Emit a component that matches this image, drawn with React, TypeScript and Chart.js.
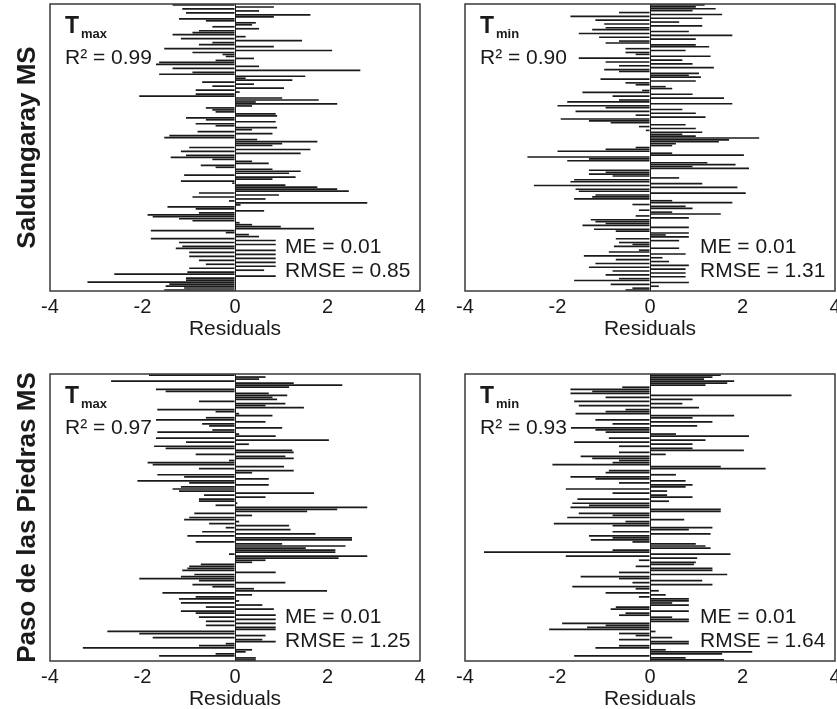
import React, { useEffect, useRef } from "react";
import { Chart, registerables } from "chart.js";

Chart.register(...registerables);

const FONT = "'Liberation Sans', Arial, Helvetica, sans-serif";
const INK = "#1a1a1a";

// x-axis range / tick labels
const X_MIN = -4;
const X_MAX = 4;
const X_STEP = 2;
const X_TITLE = "Residuals";

// station labels
const STATION_TOP = "Saldungaray MS";
const STATION_BOTTOM = "Paso de las Piedras MS";

// panel statistics
const STATS_TL = { sub: "max", r2: "R² = 0.99", me: "ME = 0.01", rmse: "RMSE = 0.85" };
const STATS_TR = { sub: "min", r2: "R² = 0.90", me: "ME = 0.01", rmse: "RMSE = 1.31" };
const STATS_BL = { sub: "max", r2: "R² = 0.97", me: "ME = 0.01", rmse: "RMSE = 1.25" };
const STATS_BR = { sub: "min", r2: "R² = 0.93", me: "ME = 0.01", rmse: "RMSE = 1.64" };

// residuals, top row to bottom row
const saldungarayTmax = [
  -1.35, 0.84, -1.14, 0.52, -1.06, 1.63, 0.84, -1.21, -0.63, 0.45,
  0.37, -0.49, 0.52, -0.78, -0.92, -1.35, 0.23, -1.17, 1.45, -0.49,
  -0.78, 0.84, -1.53, 2.10, -0.92, -0.27, -0.20, 0.41, -0.42, -1.64,
  -1.71, 0.52, -1.35, 2.71, -0.92, -1.64, 1.52, 0.23, 1.24, -0.71,
  0.41, -0.49, 1.06, -0.85, 0.10, -0.85, -2.07, 1.02, 1.81, 0.45,
  2.21, 0.37, -0.63, -0.49, -0.42, 0.88, 0.91, -1.06, -0.63, 0.88,
  -0.85, -0.42, 0.91, 0.37, -0.81, 0.81, -1.42, -1.53, 0.48, 1.78,
  1.02, 0.81, -0.99, 1.63, -1.17, 1.42, -1.06, -1.39, -0.49, 0.37,
  0.73, -0.74, -0.42, 0.81, 1.42, 1.17, -1.10, 1.31, 0.81, -1.17,
  -0.06, 1.09, 1.78, 2.21, 2.46, -0.78, 0.95, -0.92, 0.66, -0.13,
  2.86, 0.12, -1.46, -0.85, 0.63, -0.78, -1.89, -1.78, -1.21, -0.92,
  0.10, 0.37, 0.99, 1.71, -1.82, -0.20, 0.30, 0.52, -1.82, 0.88,
  -1.21, 0.88, -1.14, -1.28, 0.88, -0.99, 0.88, -0.99, 0.88, -0.78,
  0.88, -0.63, 0.88, -0.99, 0.63, -1.03, -2.61, 0.88, -1.06, -1.06,
  -3.19, -1.42, -1.50, -1.10, -1.53,
];

const saldungarayTmin = [
  1.18, 0.99, 1.42, 0.92, -0.67, 1.56, -1.72, 1.13, -1.18, 0.63,
  -0.99, 1.13, -0.96, -1.25, 0.84, -1.54, 1.78, -1.10, 0.99, -0.67,
  -0.96, 0.99, 1.28, -0.53, 0.77, -0.53, -0.31, 1.31, -1.54, 0.70,
  -0.96, 0.92, -0.67, 1.38, -0.99, -0.67, 1.06, 0.84, 1.10, -1.07,
  0.99, -0.53, -0.31, 0.34, 0.48, -0.17, -1.46, 0.92, -0.81, 1.60,
  -0.67, -1.79, 1.78, -2.00, -0.96, 0.70, -1.61, 0.99, -0.31, 1.20,
  -1.93, -1.32, -0.85, 0.77, -0.24, 0.99, -0.09, 1.13, 0.70, 0.99,
  2.36, 1.71, 1.49, 0.56, 0.48, -0.31, -0.96, -2.00, 0.48, 2.03,
  -2.65, -1.32, -1.79, 1.24, 1.85, 0.92, 2.14, -1.32, -0.96, -1.32,
  -0.81, 0.63, -1.64, -1.72, 1.13, -2.51, 1.89, -1.61, -1.54, 2.07,
  -1.18, -1.25, -1.64, 0.48, 1.78, -0.38, 0.77, 0.92, -0.24, 0.48,
  1.53, -0.31, 0.84, -1.28, -1.18, -0.96, -1.46, 0.84, -1.21, -0.74,
  0.84, 0.34, 0.84, -0.74, 0.63, -0.67, -0.38, -0.78, 0.63, -0.24,
  -0.89, 0.77, -1.43, 0.27, -0.74, 0.41, -1.18, 0.84, -1.32, 0.77,
  -0.81, 0.77, -0.96, 0.77, -0.67, -1.64, 0.84, -0.85, 0.19, -0.38,
  -0.53,
];

const pasoTmax = [
  -1.86, 0.66, 0.52, -2.68, 1.27, 2.32, 1.17, -1.71, -1.50, 0.73,
  1.13, 0.81, 0.91, -0.78, 1.09, 0.66, 1.49, -1.68, -0.42, 0.09,
  0.81, -0.63, -1.71, 0.66, -0.71, -0.56, 1.02, -0.49, -1.68, 0.09,
  0.88, -1.71, 2.03, -1.06, 0.30, -1.75, -1.50, 1.24, 1.27, -0.85,
  1.09, 1.27, -0.13, -1.89, -1.78, 1.06, -0.78, 1.27, 0.37, -1.68,
  -1.10, 0.73, -2.11, -0.99, 0.73, -1.17, -1.35, -1.21, 1.71, -0.67,
  0.66, -0.78, -0.78, 0.05, -0.42, 2.86, 2.21, 1.56, -0.88, 0.37,
  -0.99, -1.10, 0.09, -0.56, 1.17, -0.20, 1.20, -0.71, 1.74, -1.03,
  2.53, 2.53, -0.85, 1.02, 2.39, 1.53, 2.17, 2.17, -0.13, 2.86,
  2.24, 0.66, 0.37, -0.74, -0.99, -1.03, -1.14, 0.88, -0.88, -1.17,
  -2.07, -0.78, 1.09, -0.92, -0.49, 0.41, 1.99, -1.57, 0.37, -0.85,
  -1.21, 0.09, -1.17, 0.59, -0.63, 0.84, -1.17, -0.85, 0.88, -0.78,
  0.88, -0.63, 0.88, -0.63, 0.88, 0.88, -2.76, -2.07, 0.66, -1.78,
  0.59, 0.88, -0.20, -0.78, -3.29, 0.37, 0.23, -0.42, -1.64, 0.45,
  0.45,
];

const pasoTmin = [
  1.53, 1.35, 1.17, 1.82, 1.67, 1.20, -0.60, -1.72, -1.25, -1.72,
  3.06, -0.96, 0.92, -1.64, 0.70, -1.54, 1.06, -0.53, -0.96, -1.61,
  1.82, 0.92, -1.18, 1.35, -0.81, 1.02, -1.72, -1.18, -0.96, 0.56,
  2.14, -0.89, 1.20, -1.64, 0.92, -0.67, 0.92, 2.03, -0.67, 0.34,
  -1.50, -1.25, -0.67, -0.81, -2.11, 1.53, 2.50, -0.89, -0.96, 0.56,
  -1.72, -1.18, 0.77, -0.67, 0.92, 0.77, -1.82, 0.37, -0.81, 0.37,
  0.92, -1.57, 0.41, -1.68, -1.32, -1.72, 1.53, 1.53, -1.54, -0.81,
  -1.79, 0.74, -0.53, -2.08, -0.81, 1.35, 0.84, -0.81, 1.31, -1.32,
  -0.81, -1.28, -0.38, 0.99, 1.20, 1.31, -0.81, -3.59, 1.74, -1.82,
  1.02, -0.24, 0.99, 0.95, -0.31, 1.35, 1.35, -0.67, 1.67, -1.50,
  -0.67, 1.13, -0.38, 1.35, -1.68, -0.31, 0.19, -0.96, 0.34, -0.24,
  0.84, 0.84, 0.48, 0.84, -0.74, -0.85, 0.84, -0.53, -0.67, 0.48,
  0.84, 0.84, -1.90, -0.96, -1.36, -2.18, 0.12, -0.67, -0.31, 0.48,
  -0.67, 0.84, 0.84, -0.67, -1.18, 0.34, 2.21, 1.56, -1.64, 0.77,
  1.60,
];

const panelTextPlugin = {
  id: "panelText",
  afterDatasetsDraw(chart: any, _args: any, opts: any) {
    if (!opts || !opts.r2) return;
    const ctx = chart.ctx as CanvasRenderingContext2D;
    const ca = chart.chartArea;
    const left = ca.left + 15;
    ctx.save();
    // T + subscript
    ctx.font = `bold 23px ${FONT}`;
    const wT = ctx.measureText("T").width;
    ctx.font = `bold 13px ${FONT}`;
    const wSub = ctx.measureText(opts.sub).width;
    ctx.fillStyle = "#ffffff";
    ctx.fillRect(left - 3, ca.top + 10, wT + wSub + 8, 30);
    // R2
    ctx.font = `21px ${FONT}`;
    const wR2 = ctx.measureText(opts.r2).width;
    ctx.fillRect(left - 3, ca.top + 42, wR2 + 7, 24);
    // ME / RMSE box
    ctx.fillRect(ca.left + 227, ca.top + 229, ca.right - (ca.left + 227) - 1, 48);

    ctx.fillStyle = INK;
    ctx.textBaseline = "alphabetic";
    ctx.textAlign = "left";
    ctx.font = `bold 23px ${FONT}`;
    ctx.fillText("T", left, ca.top + 29);
    ctx.font = `bold 13px ${FONT}`;
    ctx.fillText(opts.sub, left + wT + 2, ca.top + 34);
    ctx.font = `21px ${FONT}`;
    ctx.fillText(opts.r2, left, ca.top + 60);
    ctx.fillText(opts.me, ca.left + 235, ca.top + 249);
    ctx.fillText(opts.rmse, ca.left + 235, ca.top + 273);
    ctx.restore();
  },
  afterDraw(chart: any) {
    const ctx = chart.ctx as CanvasRenderingContext2D;
    const ca = chart.chartArea;
    ctx.save();
    ctx.strokeStyle = "#3a3a3a";
    ctx.lineWidth = 1.5;
    ctx.strokeRect(ca.left, ca.top, ca.right - ca.left, ca.bottom - ca.top);
    ctx.restore();
  },
};

type PanelProps = {
  values: number[];
  stats: { sub: string; r2: string; me: string; rmse: string };
  yTitle: string;
  yWidth: number;
  rightPad: number;
  left: number;
  top: number;
};

const CANVAS_W = 430;
const CANVAS_H = 342;

function Panel({ values, stats, yTitle, yWidth, rightPad, left, top }: PanelProps) {
  const ref = useRef<HTMLCanvasElement | null>(null);
  useEffect(() => {
    if (!ref.current) return;
    const labels = values.map((_, i) => String(i + 1));
    const chart = new Chart(ref.current, {
      type: "bar",
      data: {
        labels,
        datasets: [
          {
            data: values,
            backgroundColor: INK,
            borderWidth: 0,
            barPercentage: 0.85,
            categoryPercentage: 1,
          },
        ],
      },
      plugins: [panelTextPlugin],
      options: {
        indexAxis: "y",
        responsive: false,
        animation: false,
        events: [],
        layout: { padding: { top: 4, right: rightPad, left: 0, bottom: 0 } },
        plugins: {
          legend: { display: false },
          tooltip: { enabled: false },
          panelText: stats,
        } as any,
        scales: {
          x: {
            type: "linear",
            min: X_MIN,
            max: X_MAX,
            ticks: {
              stepSize: X_STEP,
              padding: 4,
              color: INK,
              font: { family: FONT, size: 20 },
              callback: (v: any) => String(v),
            },
            grid: {
              drawTicks: false,
              lineWidth: 1,
              color: (c: any) => (c.tick && c.tick.value === 0 ? INK : "rgba(0,0,0,0)"),
            },
            border: { display: false },
            title: {
              display: true,
              text: X_TITLE,
              color: INK,
              font: { family: FONT, size: 21 },
              padding: { top: 0, bottom: 0 },
            },
            afterFit: (s: any) => {
              s.height = 51;
            },
          },
          y: {
            type: "category",
            ticks: { display: false },
            grid: { display: false, drawTicks: false },
            border: { display: false },
            title: {
              display: !!yTitle,
              text: yTitle,
              color: INK,
              font: { family: FONT, size: 26, weight: "bold" },
              padding: { top: 12, bottom: 0 },
            },
            afterFit: (s: any) => {
              s.width = yWidth;
            },
          },
        },
      } as any,
    });
    return () => chart.destroy();
  }, [values, stats, yTitle, yWidth, rightPad]);
  return (
    <div style={{ position: "absolute", left, top, width: CANVAS_W, height: CANVAS_H }}>
      <canvas ref={ref} width={CANVAS_W} height={CANVAS_H} style={{ display: "block" }} />
    </div>
  );
}

export default function App() {
  return (
    <div
      style={{
        position: "absolute",
        left: 0,
        top: 0,
        width: 837,
        height: 709,
        overflow: "hidden",
        background: "#ffffff",
      }}
    >
      <Panel values={saldungarayTmax} stats={STATS_TL} yTitle={STATION_TOP} yWidth={50} rightPad={10} left={0} top={0} />
      <Panel values={saldungarayTmin} stats={STATS_TR} yTitle="" yWidth={35} rightPad={25} left={430} top={0} />
      <Panel values={pasoTmax} stats={STATS_BL} yTitle={STATION_BOTTOM} yWidth={50} rightPad={10} left={0} top={370} />
      <Panel values={pasoTmin} stats={STATS_BR} yTitle="" yWidth={35} rightPad={25} left={430} top={370} />
    </div>
  );
}
